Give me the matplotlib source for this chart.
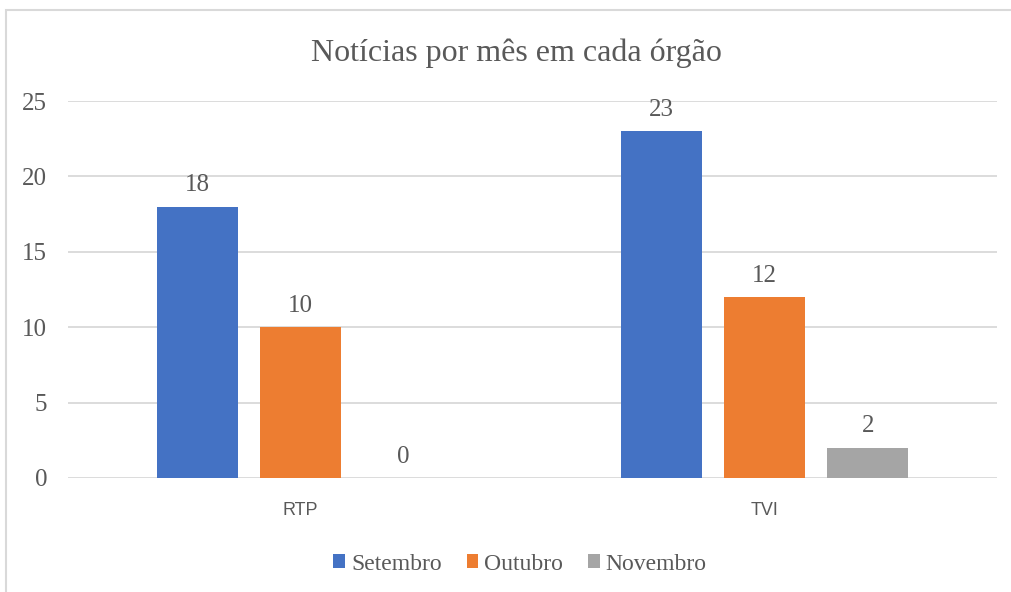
import matplotlib
matplotlib.use("Agg")
import matplotlib.pyplot as plt
import numpy as np
from matplotlib.patches import Rectangle

categories = ["RTP", "TVI"]
series_names = ["Setembro", "Outubro", "Novembro"]
setembro = [18, 23]
outubro = [10, 12]
novembro = [0, 2]
yticks = [0, 5, 10, 15, 20, 25]

colors = ["#4472C4", "#ED7D31", "#A5A5A5"]
text_color = "#595959"
serif = ["Liberation Serif", "DejaVu Serif"]
sans = ["Liberation Sans", "DejaVu Sans"]

fig = plt.figure(figsize=(10.12, 5.92), dpi=100)
fig.patch.set_facecolor("white")
# outer chart frame
fig.add_artist(Rectangle((6/1012, -0.05), 1.2, 1.05 - 10/592, transform=fig.transFigure,
                         fill=False, edgecolor="#D9D9D9", linewidth=1.5))

ax = fig.add_axes([68/1012, 1 - 478/592, (997-68)/1012, (478-101)/592])
x = np.arange(len(categories))
width = 0.174
step = 0.2215
data = [setembro, outubro, novembro]
for i, (vals, name, c) in enumerate(zip(data, series_names, colors)):
    pos = x + (i - 1) * step
    ax.bar(pos, vals, width, color=c, label=name, zorder=3)
    for p, v in zip(pos, vals):
        ax.annotate(str(v), (p, v), xytext=(0, 7.5), textcoords="offset points",
                    ha="center", va="bottom", fontsize=18, color=text_color, family=serif)

ax.set_xlim(-0.5, 1.5)
ax.set_ylim(0, 25)
ax.set_yticks(yticks)
ax.set_yticklabels([str(t) for t in yticks], fontsize=18, color=text_color, family=serif)
ax.set_xticks(x)
ax.set_xticklabels(categories, fontsize=13, color=text_color, family=sans)
ax.tick_params(axis="both", length=0)
ax.tick_params(axis="y", pad=15)
ax.tick_params(axis="x", pad=17)
ax.yaxis.grid(True, color="#D9D9D9", linewidth=1.3, zorder=0)
ax.set_axisbelow(True)
for s in ax.spines.values():
    s.set_visible(False)

fig.text(516/1012, 1 - 53/592, "Notícias por mês em cada órgão", ha="center", va="center",
         fontsize=23, color=text_color, family=serif)

leg = fig.legend(loc="center", bbox_to_anchor=(520/1012, 1 - 564/592), ncol=3, frameon=False,
                 prop={"family": serif, "size": 17}, handlelength=0.5, handleheight=0.5,
                 handletextpad=0.25, columnspacing=1.05, labelcolor=text_color)

fig.savefig("out.png", dpi=100, facecolor="white")
